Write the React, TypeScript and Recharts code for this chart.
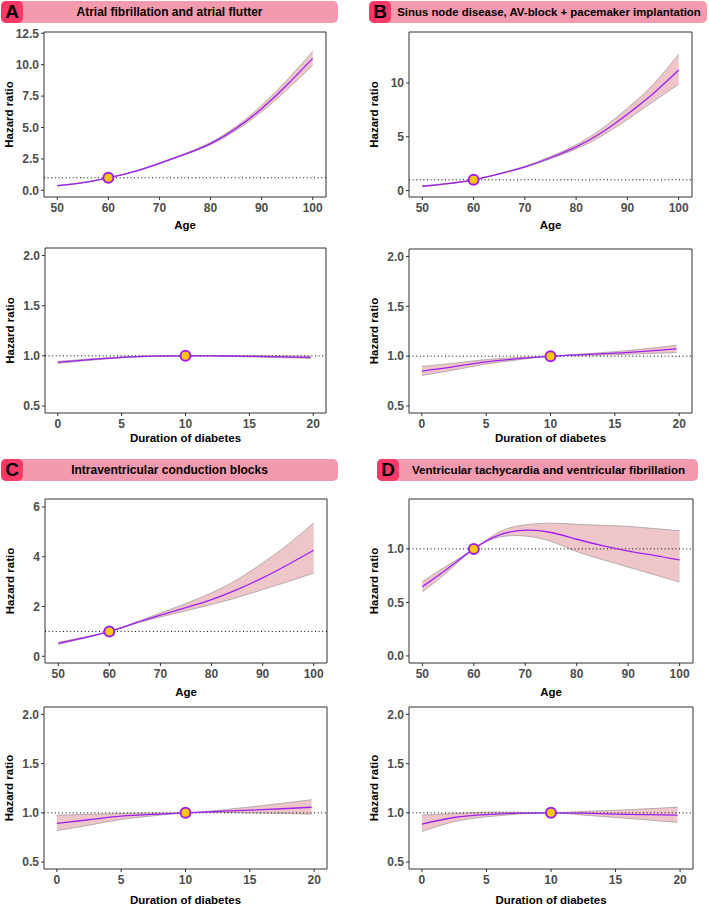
import React from 'react'
import {
  Area,
  ComposedChart,
  Line,
  ReferenceArea,
  ReferenceDot,
  ReferenceLine,
  XAxis,
  YAxis,
} from 'recharts'

const FONT = '"Liberation Sans", Arial, Helvetica, sans-serif'

// x grids
const ageX = [50, 55, 60, 65, 70, 75, 80, 85, 90, 95, 100]
const durX = [0, 2.5, 5, 7.5, 10, 12.5, 15, 17.5, 19.8]

const ageTicks = [50, 60, 70, 80, 90, 100]
const durTicks = [0, 5, 10, 15, 20]

// A: atrial fibrillation
const afAgeHr = [0.37, 0.61, 1.0, 1.49, 2.15, 2.88, 3.72, 4.93, 6.5, 8.4, 10.5]
const afAgeLo = [0.34, 0.59, 1.0, 1.47, 2.11, 2.83, 3.63, 4.78, 6.25, 8.02, 9.95]
const afAgeHi = [0.4, 0.63, 1.0, 1.51, 2.19, 2.93, 3.82, 5.09, 6.76, 8.8, 11.05]
const afDurHr = [0.935, 0.962, 0.985, 0.997, 1.0, 0.999, 0.995, 0.99, 0.985]
const afDurLo = [0.925, 0.955, 0.98, 0.995, 1.0, 0.997, 0.99, 0.982, 0.975]
const afDurHi = [0.945, 0.969, 0.99, 0.999, 1.0, 1.001, 1.0, 0.998, 0.995]

// B: sinus node disease
const snAgeHr = [0.4, 0.65, 1.0, 1.55, 2.2, 3.05, 4.06, 5.4, 7.1, 9.0, 11.2]
const snAgeLo = [0.36, 0.62, 1.0, 1.52, 2.14, 2.95, 3.87, 5.08, 6.6, 8.25, 9.88]
const snAgeHi = [0.44, 0.68, 1.0, 1.58, 2.26, 3.16, 4.26, 5.75, 7.65, 9.85, 12.67]
const snDurHr = [0.85, 0.895, 0.943, 0.975, 1.0, 1.015, 1.03, 1.05, 1.073]
const snDurLo = [0.807, 0.862, 0.921, 0.964, 1.0, 1.008, 1.015, 1.026, 1.037]
const snDurHi = [0.897, 0.93, 0.966, 0.986, 1.0, 1.022, 1.045, 1.076, 1.11]

// C: intraventricular conduction blocks
const ivAgeHr = [0.52, 0.74, 1.0, 1.33, 1.65, 1.96, 2.28, 2.68, 3.15, 3.69, 4.26]
const ivAgeLo = [0.48, 0.72, 1.0, 1.31, 1.58, 1.83, 2.08, 2.36, 2.68, 3.0, 3.35]
const ivAgeHi = [0.56, 0.77, 1.0, 1.36, 1.74, 2.12, 2.55, 3.08, 3.75, 4.5, 5.36]
const ivDurHr = [0.893, 0.93, 0.966, 0.985, 1.0, 1.014, 1.027, 1.042, 1.057]
const ivDurLo = [0.82, 0.875, 0.933, 0.97, 1.0, 1.006, 1.0, 0.994, 0.987]
const ivDurHi = [0.976, 0.985, 0.993, 0.998, 1.0, 1.025, 1.06, 1.097, 1.134]

// D: ventricular tachycardia / fibrillation
const vtAgeHr = [0.647, 0.82, 1.0, 1.13, 1.175, 1.153, 1.09, 1.03, 0.98, 0.94, 0.897]
const vtAgeLo = [0.6, 0.79, 1.0, 1.11, 1.12, 1.07, 0.975, 0.9, 0.83, 0.76, 0.69]
const vtAgeHi = [0.694, 0.85, 1.0, 1.16, 1.225, 1.24, 1.23, 1.22, 1.21, 1.19, 1.17]
const vtDurHr = [0.886, 0.953, 0.983, 0.997, 1.0, 0.997, 0.987, 0.982, 0.977]
const vtDurLo = [0.81, 0.91, 0.96, 0.988, 1.0, 0.978, 0.953, 0.928, 0.903]
const vtDurHi = [0.977, 0.993, 1.007, 1.006, 1.0, 1.015, 1.027, 1.042, 1.057]

const durYTicks = [0.5, 1.0, 1.5, 2.0]

const tickStyle = { fontSize: 12, fontWeight: 700, fill: '#4D4D4D', fontFamily: FONT }

type PanelProps = {
  box: [number, number, number, number]
  x: number[]
  hr: number[]
  lo: number[]
  hi: number[]
  xDomain: [number, number]
  yDomain: [number, number]
  xTicks: number[]
  yTicks: number[]
  refX: number
  xTitle: string
  titleGap: number
  decimals: number
}

function HrPanel({ box, x, hr, lo, hi, xDomain, yDomain, xTicks, yTicks, refX, xTitle, titleGap, decimals }: PanelProps) {
  const [l, t, r, b] = box
  const rows = x.map((v, i) => ({ x: v, hr: hr[i], band: [lo[i], hi[i]] }))
  const yW = 44
  const top = 4
  const right = 6
  const xH = 44

  const yTitle = (props: any) => {
    const vb = props.viewBox
    const cx = vb.x + 9
    const cy = vb.y + vb.height / 2
    return (
      <text
        x={cx}
        y={cy}
        transform={`rotate(-90 ${cx} ${cy})`}
        textAnchor="middle"
        dominantBaseline="central"
        style={{ fontSize: 11.5, fontWeight: 700, fill: '#000', fontFamily: FONT }}
      >
        Hazard ratio
      </text>
    )
  }

  const xTitleLabel = (props: any) => {
    const vb = props.viewBox
    return (
      <text
        x={vb.x + vb.width / 2}
        y={vb.y + titleGap}
        textAnchor="middle"
        dominantBaseline="central"
        style={{ fontSize: 11.5, fontWeight: 700, fill: '#000', fontFamily: FONT }}
      >
        {xTitle}
      </text>
    )
  }

  return (
    <div style={{ position: 'absolute', left: l - yW, top: t - top }}>
      <ComposedChart
        width={yW + (r - l) + right}
        height={top + (b - t) + xH}
        data={rows}
        margin={{ top, right, bottom: 0, left: 0 }}
      >
        <XAxis
          dataKey="x"
          type="number"
          domain={xDomain}
          ticks={xTicks}
          allowDataOverflow
          axisLine={false}
          tickLine={{ stroke: '#333' }}
          tickSize={3}
          tickMargin={3}
          tick={tickStyle}
          height={xH}
          interval={0}
          label={xTitleLabel}
        />
        <YAxis
          type="number"
          domain={yDomain}
          ticks={yTicks}
          allowDataOverflow
          axisLine={false}
          tickLine={{ stroke: '#333' }}
          tickSize={3}
          tickMargin={2}
          tick={tickStyle}
          width={yW}
          interval={0}
          tickFormatter={(v) => Number(v).toFixed(decimals)}
          label={yTitle}
        />
        <ReferenceArea
          x1={xDomain[0]}
          x2={xDomain[1]}
          y1={yDomain[0]}
          y2={yDomain[1]}
          fill="none"
          fillOpacity={0}
          stroke="#333"
          strokeWidth={1}
          ifOverflow="visible"
        />
        <Area
          dataKey="band"
          type="natural"
          fill="#EEC6C9"
          fillOpacity={1}
          stroke="#A89E9E"
          strokeWidth={0.8}
          isAnimationActive={false}
        />
        <ReferenceLine y={1} stroke="#000" strokeWidth={1} strokeDasharray="1 2.6" />
        <Line
          dataKey="hr"
          type="natural"
          stroke="#A020F0"
          strokeWidth={1.3}
          dot={false}
          isAnimationActive={false}
        />
        <ReferenceDot x={refX} y={1} r={5} fill="#FFC800" stroke="#A020F0" strokeWidth={2} />
      </ComposedChart>
    </div>
  )
}

type HeaderProps = {
  left: number
  top: number
  width: number
  letter: string
  title: string
  centerAll: boolean
  titleSize: number
}

function Header({ left, top, width, letter, title, centerAll, titleSize }: HeaderProps) {
  return (
    <div
      style={{
        position: 'absolute',
        left,
        top,
        width,
        height: 22,
        background: '#F49AAE',
        borderRadius: 5,
        fontFamily: FONT,
      }}
    >
      <div
        style={{
          position: 'absolute',
          left: 0,
          top: 0,
          width: 22,
          height: 22,
          background: '#F93A68',
          borderRadius: 5,
          fontSize: 19,
          fontWeight: 700,
          lineHeight: '22px',
          textAlign: 'center',
          color: '#000',
        }}
      >
        {letter}
      </div>
      <div
        style={{
          position: 'absolute',
          left: centerAll ? 0 : 22,
          right: 0,
          top: 0,
          height: 22,
          lineHeight: '22px',
          textAlign: 'center',
          fontSize: titleSize,
          fontWeight: 700,
          color: '#000',
          whiteSpace: 'nowrap',
        }}
      >
        {title}
      </div>
    </div>
  )
}

export default function App() {
  const ageDom: [number, number] = [47.4, 102.6]
  const durDom: [number, number] = [-1, 21]
  const durYDom: [number, number] = [0.43, 2.075]
  return (
    <div style={{ position: 'absolute', left: 0, top: 0, width: 709, height: 905, background: '#fff', fontFamily: FONT, overflow: 'hidden' }}>
      <Header left={1} top={1} width={337} letter="A" title="Atrial fibrillation and atrial flutter" centerAll titleSize={12} />
      <Header left={369} top={1} width={338} letter="B" title="Sinus node disease, AV-block + pacemaker implantation" centerAll={false} titleSize={11.4} />
      <Header left={1} top={459} width={337} letter="C" title="Intraventricular conduction blocks" centerAll titleSize={12} />
      <Header left={377} top={459} width={321} letter="D" title="Ventricular tachycardia and ventricular fibrillation" centerAll={false} titleSize={11.6} />

      <HrPanel box={[44, 32, 326, 197]} x={ageX} hr={afAgeHr} lo={afAgeLo} hi={afAgeHi} xDomain={ageDom} yDomain={[-0.53, 12.6]} xTicks={ageTicks} yTicks={[0, 2.5, 5, 7.5, 10, 12.5]} refX={60} xTitle="Age" titleGap={28} decimals={1} />
      <HrPanel box={[45, 248, 326, 413]} x={durX} hr={afDurHr} lo={afDurLo} hi={afDurHi} xDomain={durDom} yDomain={durYDom} xTicks={durTicks} yTicks={durYTicks} refX={10} xTitle="Duration of diabetes" titleGap={25} decimals={1} />

      <HrPanel box={[409, 32, 692, 197]} x={ageX} hr={snAgeHr} lo={snAgeLo} hi={snAgeHi} xDomain={ageDom} yDomain={[-0.6, 14.74]} xTicks={ageTicks} yTicks={[0, 5, 10]} refX={60} xTitle="Age" titleGap={28} decimals={0} />
      <HrPanel box={[409, 249, 692, 413]} x={durX} hr={snDurHr} lo={snDurLo} hi={snDurHi} xDomain={durDom} yDomain={durYDom} xTicks={durTicks} yTicks={durYTicks} refX={10} xTitle="Duration of diabetes" titleGap={25} decimals={1} />

      <HrPanel box={[45, 499, 327, 663]} x={ageX} hr={ivAgeHr} lo={ivAgeLo} hi={ivAgeHi} xDomain={ageDom} yDomain={[-0.27, 6.32]} xTicks={ageTicks} yTicks={[0, 2, 4, 6]} refX={60} xTitle="Age" titleGap={29} decimals={0} />
      <HrPanel box={[44, 707, 327, 869]} x={durX} hr={ivDurHr} lo={ivDurLo} hi={ivDurHi} xDomain={durDom} yDomain={durYDom} xTicks={durTicks} yTicks={durYTicks} refX={10} xTitle="Duration of diabetes" titleGap={31} decimals={1} />

      <HrPanel box={[409, 499, 693, 663]} x={ageX} hr={vtAgeHr} lo={vtAgeLo} hi={vtAgeHi} xDomain={ageDom} yDomain={[-0.066, 1.466]} xTicks={ageTicks} yTicks={[0, 0.5, 1.0]} refX={60} xTitle="Age" titleGap={29} decimals={1} />
      <HrPanel box={[409, 707, 693, 869]} x={durX} hr={vtDurHr} lo={vtDurLo} hi={vtDurHi} xDomain={durDom} yDomain={durYDom} xTicks={durTicks} yTicks={durYTicks} refX={10} xTitle="Duration of diabetes" titleGap={31} decimals={1} />
    </div>
  )
}
